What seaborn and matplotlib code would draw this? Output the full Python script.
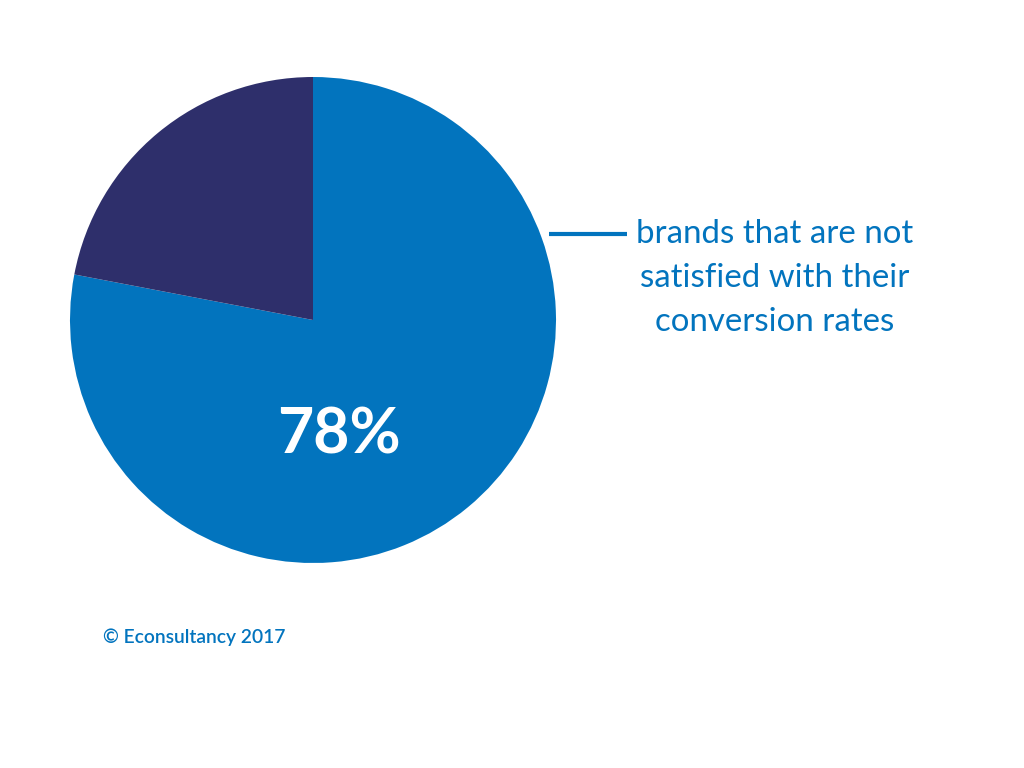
import matplotlib
matplotlib.use("Agg")
import matplotlib.pyplot as plt
import seaborn as sns

labels = ["not satisfied", "satisfied"]
values = [78, 22]
colors = ["#0274BE", "#2E2F6B"]
pct_label = "78%"
annotation = "brands that are not\nsatisfied with their\nconversion rates"
credit = "© Econsultancy 2017"

sns.set_theme(style="white")
plt.rcParams['font.family'] = ['Lato', 'DejaVu Sans']

fig = plt.figure(figsize=(10.24, 7.68), dpi=100)
ax = fig.add_axes([0, 0, 1, 1])
ax.set_xlim(0, 1024)
ax.set_ylim(0, 768)
ax.set_aspect('equal')
ax.axis('off')

ax.pie(values, colors=colors, startangle=90, counterclock=False,
       center=(313, 448), radius=243, frame=True,
       wedgeprops=dict(linewidth=0))
ax.set_xlim(0, 1024)
ax.set_ylim(0, 768)
ax.axis('off')

ax.text(339, 333, pct_label, color="white", fontsize=45, fontweight="bold",
        ha="center", va="center")
ax.plot([549, 627], [534, 534], color="#0274BE", lw=3, solid_capstyle="butt")
ax.text(775, 490, annotation, color="#0274BE", fontsize=23.8, ha="center",
        va="center", linespacing=1.6)
ax.text(103, 131, credit, color="#0274BE", fontsize=13.9, fontweight="semibold",
        ha="left", va="center")

fig.savefig("out.png", dpi=100)
